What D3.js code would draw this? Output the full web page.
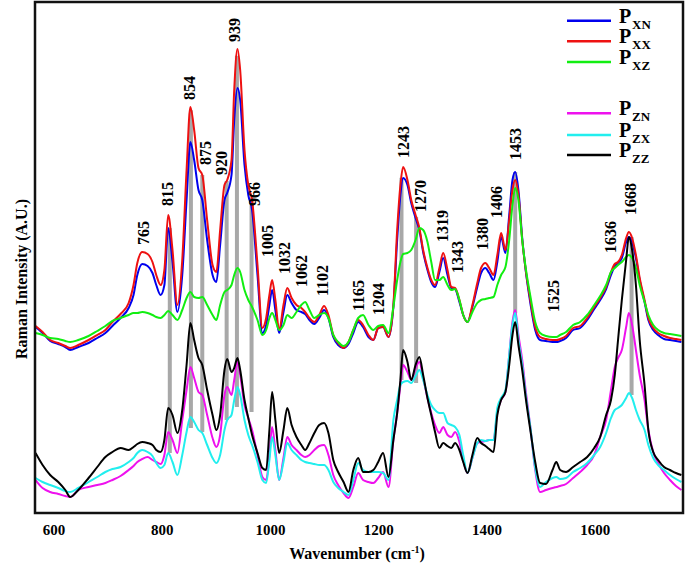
<!DOCTYPE html>
<html>
<head>
<meta charset="utf-8">
<script src="https://cdn.jsdelivr.net/npm/d3@7"></script>
<style>
  body { margin: 0; background: #fff; }
  text { font-family: "Liberation Serif", "Times New Roman", serif; font-weight: bold; fill: #000; }
</style>
</head>
<body>
<div id="chart"></div>
<script>
// Raman shift (cm-1) sampling points
var wavenumber = [567,580,594,609,622,631,646,665,681,696,
  709,724,739,748,755,764,774,783,790,798,
  805,812,820,829,838,846,853,860,868,875,
  884,894,901,908,916,921,929,934,940,945,
  953,960,967,977,986,993,999,1004,1010,1017,
  1025,1032,1040,1049,1058,1065,1073,1082,1091,1100,
  1108,1117,1126,1136,1145,1154,1163,1172,1182,1191,
  1200,1209,1219,1228,1235,1241,1246,1254,1261,1269,
  1276,1283,1291,1298,1305,1313,1320,1328,1335,1342,
  1350,1357,1365,1374,1383,1390,1398,1405,1413,1420,
  1427,1435,1442,1448,1453,1459,1466,1473,1481,1490,
  1499,1510,1522,1529,1536,1547,1560,1573,1586,1599,
  1610,1621,1630,1637,1643,1650,1658,1663,1669,1676,
  1683,1692,1699,1708,1717,1728,1739,1750,1760];

// upper group
var pXN = [186,180,172,169,166,163,166,170,175,180,
  187,195,205,218,238,249,247,240,228,218,
  228,285,251,201,238,313,371,353,323,313,
  273,238,231,268,313,320,338,393,425,413,
  348,318,303,238,180,188,208,223,203,180,
  201,218,210,203,201,199,193,189,195,203,
  195,176,168,165,169,180,191,186,176,173,
  185,186,176,206,273,318,335,328,310,295,
  283,261,243,231,226,241,255,238,225,224,
  211,198,191,206,226,240,245,240,233,251,
  276,260,298,333,341,323,275,240,210,183,
  173,172,171,171,172,175,183,185,193,204,
  213,224,238,247,250,255,271,276,271,255,
  233,211,193,183,178,174,173,172,171];
var pXX = [187,181,173,170,167,165,168,173,178,183,
  191,199,210,228,250,261,259,251,238,228,
  243,298,263,208,253,343,406,383,345,338,
  293,248,241,283,328,333,353,423,464,443,
  363,328,313,248,185,195,218,233,213,183,
  208,225,215,208,205,201,195,191,198,207,
  198,178,170,165,171,183,193,188,178,173,
  185,186,176,208,283,328,346,333,313,298,
  285,263,245,233,228,245,260,243,226,225,
  213,198,191,208,230,245,250,245,238,258,
  280,263,293,323,333,318,273,241,213,186,
  176,174,173,173,174,177,185,187,195,206,
  215,226,241,249,251,258,275,281,275,258,
  235,213,195,185,180,177,175,174,173];
var pXZ = [180,178,175,174,172,171,173,177,182,187,
  192,195,198,200,200,201,200,198,196,195,
  198,202,198,193,203,215,221,216,215,216,
  208,198,193,208,221,223,228,238,245,241,
  223,213,206,193,178,183,195,200,193,183,
  188,198,195,201,208,211,203,195,198,200,
  195,178,171,167,171,183,195,198,188,183,
  187,188,180,206,233,251,259,260,263,273,
  285,283,271,251,233,233,236,228,223,224,
  213,198,191,201,210,213,214,215,216,228,
  238,246,273,308,325,313,273,243,217,191,
  180,177,176,176,178,181,188,191,198,208,
  217,228,241,245,248,251,256,258,255,245,
  228,211,198,188,183,180,179,178,177];

// lower group
var pZN = [33,25,21,19,17,16,23,26,28,30,
  33,37,43,47,51,54,56,53,51,49,
  58,81,73,60,93,123,146,135,121,118,
  98,75,66,78,118,126,118,133,151,138,
  108,95,83,58,36,33,58,86,63,33,
  55,76,68,63,58,56,58,63,67,68,
  58,38,28,20,15,26,40,33,31,30,
  35,41,26,73,100,128,148,141,133,145,
  151,135,115,100,88,80,86,78,76,81,
  71,53,40,55,70,71,72,73,73,101,
  113,121,158,191,203,178,153,120,86,43,
  21,23,25,26,27,29,35,41,48,58,
  76,93,123,146,155,163,186,200,188,163,
  138,113,83,61,50,40,33,27,23];
var pZX = [35,31,28,25,22,21,25,31,36,41,
  44,46,51,55,60,63,61,57,50,45,
  48,60,51,38,58,81,96,91,83,80,
  68,55,50,58,83,93,98,113,126,118,
  93,78,68,51,33,30,53,76,58,33,
  51,70,63,58,53,51,50,49,48,48,
  43,31,25,21,18,33,50,43,41,41,
  41,40,33,93,113,128,131,132,130,137,
  143,133,118,108,103,100,100,90,88,86,
  78,58,40,55,70,73,72,73,73,105,
  115,123,158,188,200,173,148,116,86,45,
  26,31,35,36,34,35,41,45,50,58,
  66,80,95,103,105,108,115,120,115,103,
  93,83,68,55,48,43,38,34,31];
var pZZ = [60,48,38,31,23,16,23,35,46,56,
  61,65,63,66,69,71,70,68,63,61,
  73,105,98,80,103,148,190,173,155,148,
  123,98,83,98,143,154,141,145,155,143,
  113,95,78,60,45,43,83,121,93,60,
  83,105,88,76,68,63,70,80,88,90,
  80,53,41,31,21,43,55,41,41,43,
  51,60,36,73,100,133,163,151,133,148,
  156,138,115,98,81,65,70,67,65,70,
  63,51,40,58,75,70,67,64,61,98,
  113,121,148,178,191,168,143,113,83,51,
  30,29,43,51,43,41,46,51,56,65,
  76,98,113,138,173,213,253,276,263,228,
  173,128,83,61,53,46,43,40,38];

// marked bands (grey bars) and the lowest level each one reaches
var bands = [815, 854, 875, 920, 939, 966, 1243, 1270, 1453, 1668];
var bandLow = [60, 85, 81, 93, 106, 101, 133, 130, 200, 118];

// peak labels
var peakLabels = ["765","815","854","875","920","939","966","1005","1032","1062","1102",
  "1165","1204","1243","1270","1319","1343","1380","1406","1453","1525","1636","1668"];
var labelWn = [766,810,852,880,911,935,972,996,1026,1059,1096,
  1163,1200,1246,1277,1318,1347,1392,1419,1453,1523,1628,1665];
var labelLevel = [268,307,413,348,338,471,307,256,239,226,217,
  202,198,355,301,271,240,263,295,353,201,260,298];

var xTicks = [600, 800, 1000, 1200, 1400, 1600];

var seriesNames = ["XN", "XX", "XZ", "ZN", "ZX", "ZZ"];
var seriesColors = ["#0000ee", "#ee1111", "#11ee11", "#ee11ee", "#22eeee", "#000000"];
var seriesData = [pXN, pXX, pXZ, pZN, pZX, pZZ];

// set the dimensions and margins of the graph
var margin = { top: 2, right: 2, bottom: 60, left: 35 },
  width = 685 - margin.left - margin.right,
  height = 573 - margin.top - margin.bottom;

var svg = d3.select("#chart")
  .append("svg")
  .attr("width", 685)
  .attr("height", 573)
  .append("g")
  .attr("transform", "translate(" + margin.left + "," + margin.top + ")");

var x = d3.scaleLinear().domain([566, 1763]).range([0, width]);
var y = d3.scaleLinear().domain([0, 511]).range([height, 0]);

svg.append("defs").append("clipPath").attr("id", "clip")
  .append("rect").attr("width", width).attr("height", height);

// linear interpolation of a series at a given wavenumber
function valueAt(series, w) {
  var i = d3.bisectLeft(wavenumber, w);
  if (i <= 0) return series[0];
  if (i >= wavenumber.length) return series[series.length - 1];
  var t = (w - wavenumber[i - 1]) / (wavenumber[i] - wavenumber[i - 1]);
  return series[i - 1] + t * (series[i] - series[i - 1]);
}
function topAt(w) {
  return Math.max(valueAt(pXN, w), valueAt(pXX, w), valueAt(pXZ, w));
}

var plot = svg.append("g").attr("clip-path", "url(#clip)");

// grey bars behind the spectra
plot.selectAll(".band")
  .data(bands)
  .enter()
  .append("rect")
  .attr("class", "band")
  .attr("x", function (d) { return x(d) - 2; })
  .attr("width", 4)
  .attr("y", function (d) { return y(topAt(d)); })
  .attr("height", function (d, i) { return y(bandLow[i]) - y(topAt(d)); })
  .attr("fill", "#a8a8a8");

var line = d3.line().curve(d3.curveMonotoneX);
seriesData.forEach(function (s, k) {
  plot.append("path")
    .datum(wavenumber.map(function (w, i) { return [x(w), y(s[i])]; }))
    .attr("d", line)
    .attr("fill", "none")
    .attr("stroke", seriesColors[k])
    .attr("stroke-width", 2)
    .attr("stroke-linejoin", "round");
});

// frame
svg.append("rect")
  .attr("x", 0).attr("y", 0)
  .attr("width", width).attr("height", height)
  .attr("fill", "none")
  .attr("stroke", "#111")
  .attr("stroke-width", 2.5);

// X axis (labels only)
var xAxis = svg.append("g")
  .attr("transform", "translate(0," + height + ")")
  .call(d3.axisBottom(x).tickValues(xTicks).tickFormat(d3.format("d")).tickSize(0).tickPadding(11));
xAxis.select(".domain").remove();
xAxis.selectAll("text")
  .style("font-size", "15px")
  .style("font-family", "Liberation Serif")
  .style("font-weight", "bold");

var xTitle = svg.append("text")
  .attr("x", 322)
  .attr("y", 557)
  .attr("text-anchor", "middle")
  .style("font-size", "16px");
xTitle.append("tspan").text("Wavenumber (cm");
xTitle.append("tspan").attr("dy", -6).style("font-size", "10px").text("-1");
xTitle.append("tspan").attr("dy", 6).text(")");

svg.append("text")
  .attr("transform", "rotate(-90)")
  .attr("x", -(279 - margin.top))
  .attr("y", -8)
  .attr("text-anchor", "middle")
  .style("font-size", "16px")
  .text("Raman Intensity (A.U.)");

// peak labels
svg.selectAll(".peak")
  .data(peakLabels)
  .enter()
  .append("text")
  .attr("class", "peak")
  .attr("transform", function (d, i) {
    return "translate(" + x(labelWn[i]) + "," + y(labelLevel[i]) + ")rotate(-90)";
  })
  .attr("dy", "0.35em")
  .attr("text-anchor", "start")
  .style("font-size", "16px")
  .text(function (d) { return d; });

// legend
var legendRows = [20.7, 41.3, 62, 113.3, 135, 155];
var legend = svg.append("g").attr("transform", "translate(0," + (-margin.top) + ")");
seriesNames.forEach(function (n, i) {
  var row = legend.append("g").attr("transform", "translate(0," + legendRows[i] + ")");
  row.append("line")
    .attr("x1", 567 - margin.left).attr("x2", 611 - margin.left)
    .attr("stroke", seriesColors[i]).attr("stroke-width", 2.5);
  row.append("text")
    .attr("x", 619 - margin.left)
    .attr("y", 2)
    .style("font-size", "20px")
    .text("P");
  row.append("text")
    .attr("x", 632 - margin.left)
    .attr("y", 8)
    .style("font-size", "13px")
    .text(n);
});
</script>
</body>
</html>
